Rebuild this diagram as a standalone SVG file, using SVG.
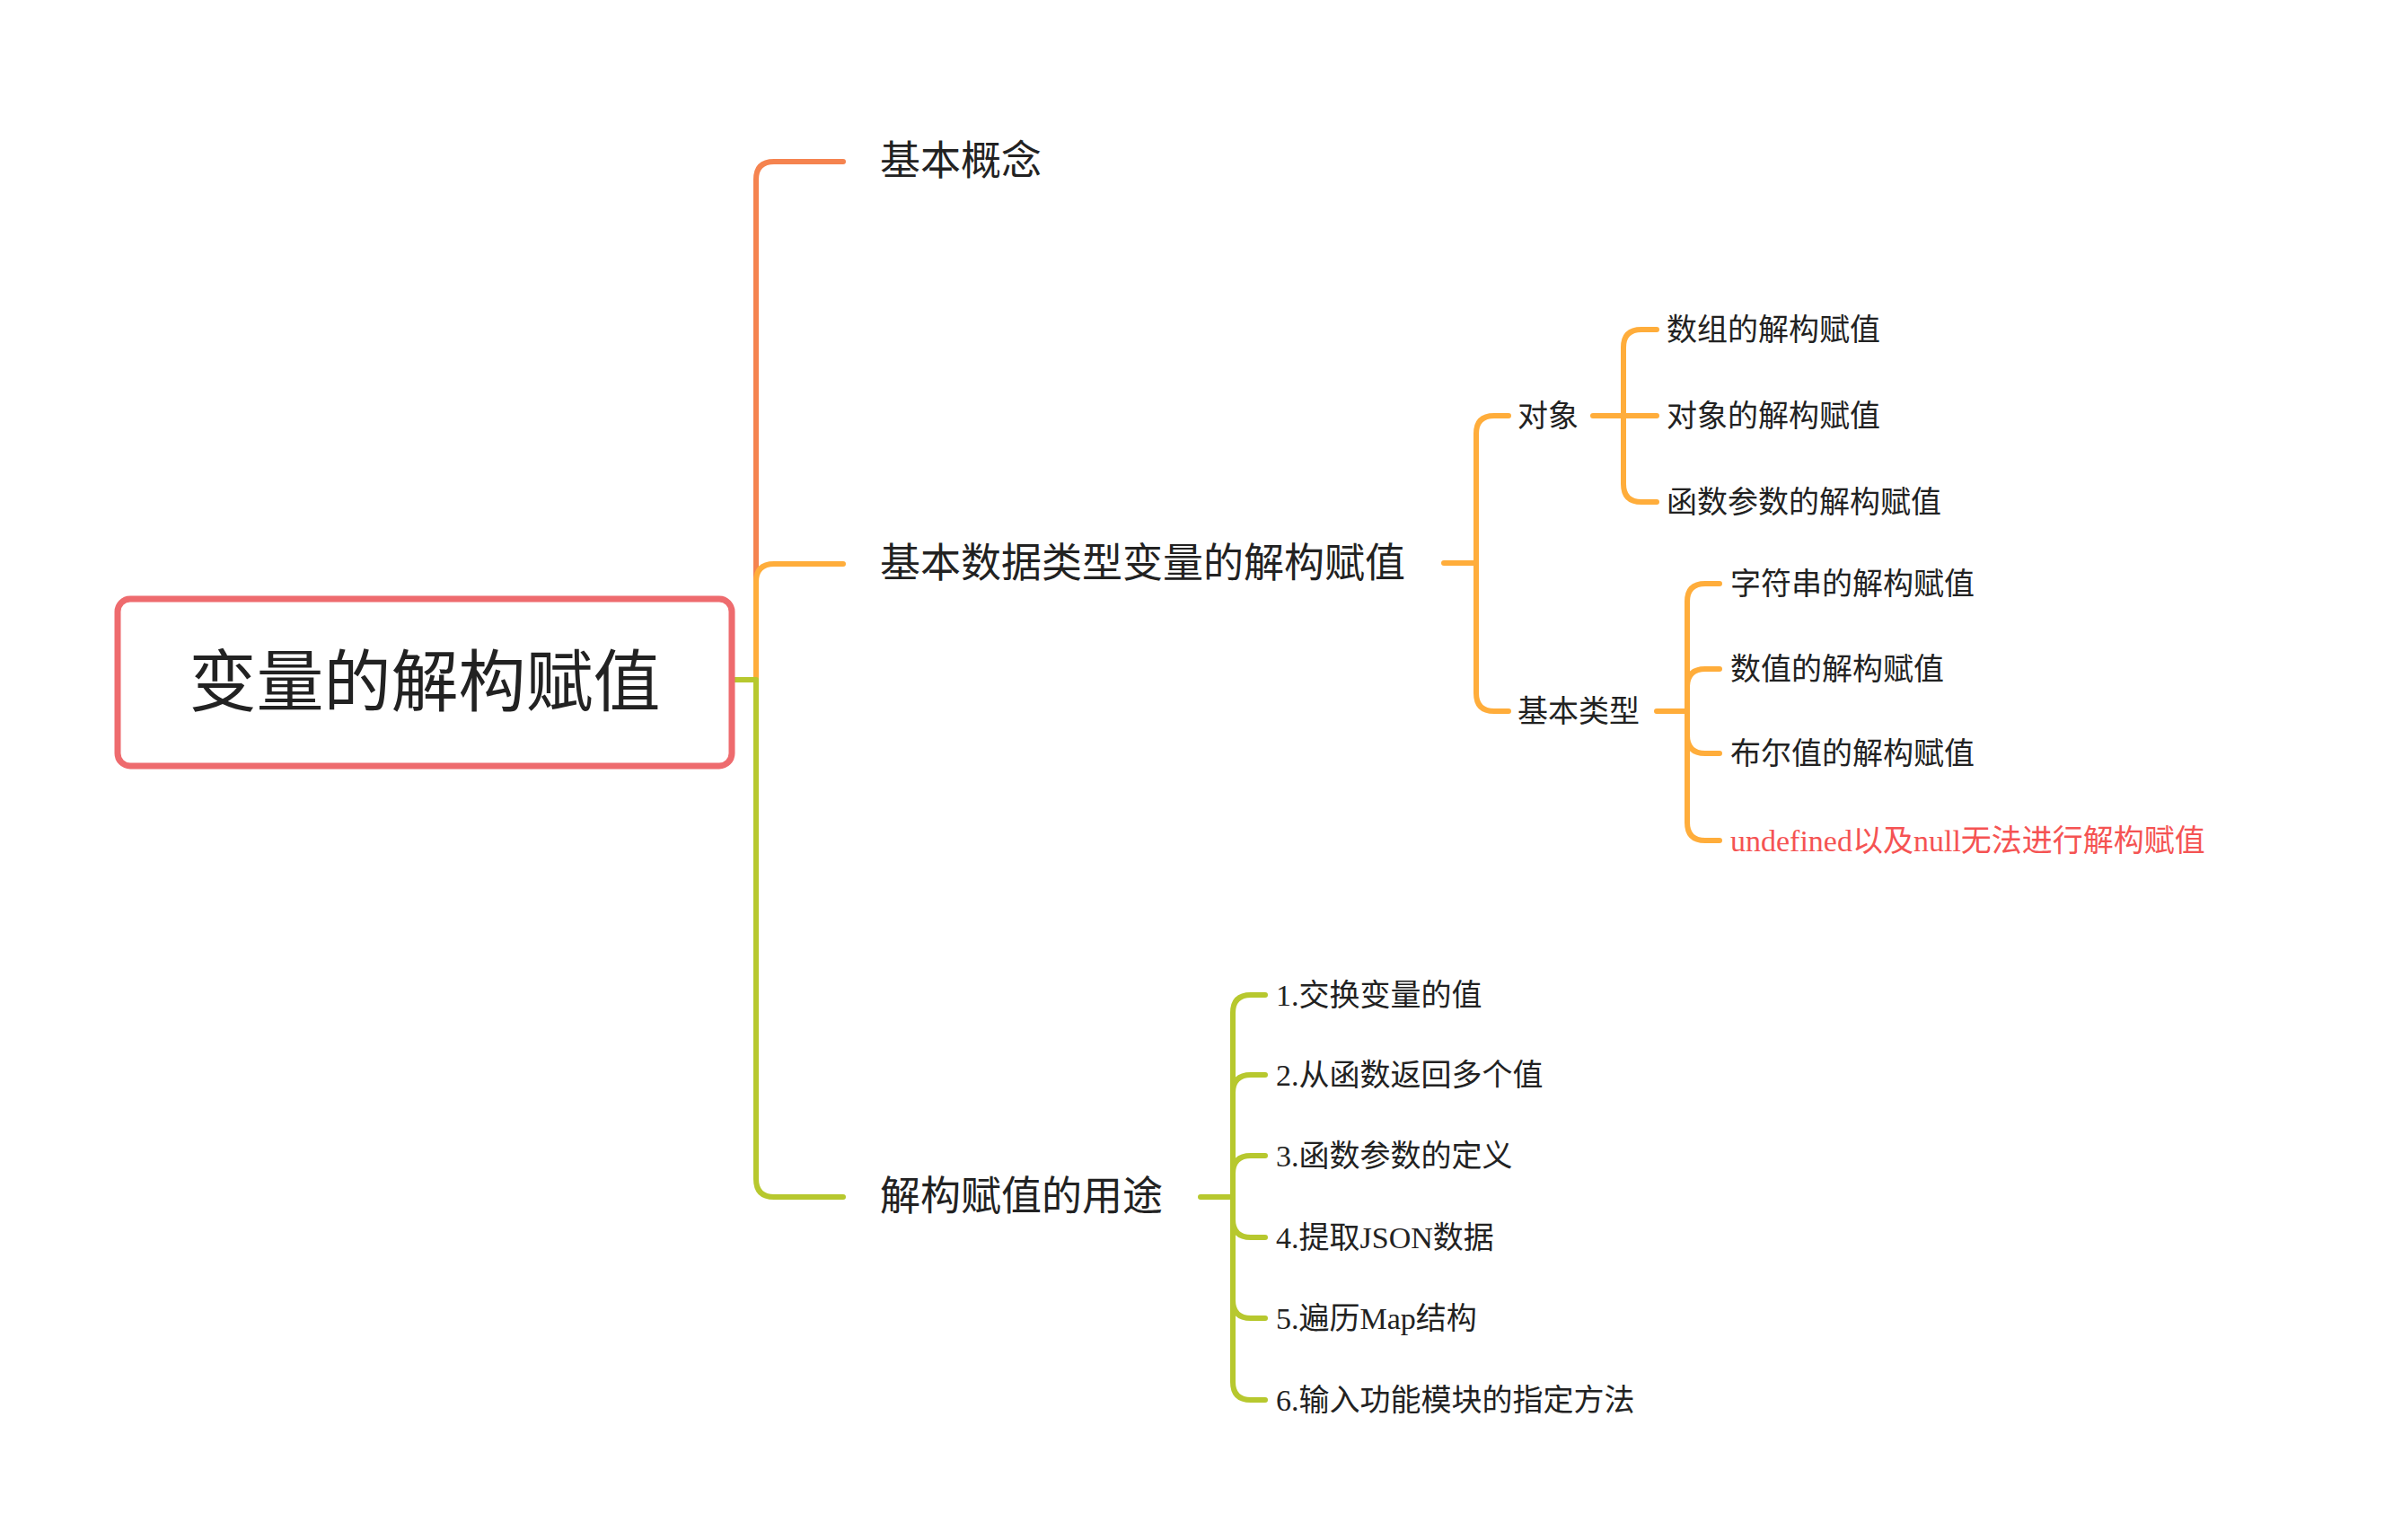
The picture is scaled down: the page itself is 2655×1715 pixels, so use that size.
<svg xmlns="http://www.w3.org/2000/svg" width="2655" height="1715" viewBox="0 0 2655 1715">
<style>
text{font-family:"Liberation Serif","Noto Sans CJK SC",sans-serif;fill:#222;dominant-baseline:central}
.c{fill:none;stroke-width:6;stroke-linecap:round;stroke-linejoin:round}
.r{stroke:#f5834f}.o{stroke:#ffad3b}.g{stroke:#b7c82e}
.l1{font-size:45px}.l2{font-size:34px}.l3{font-size:34px}
</style>
<rect width="2655" height="1715" fill="#fff"/>
<g id="connectors">
<path class="c r" d="M810,757 H842 V200 Q842,180 862,180 H939"/>
<path class="c o" d="M842,757 V648 Q842,628 862,628 H939"/>
<path class="c g" d="M810,757 H842 V1313 Q842,1333 862,1333 H939"/>
<path class="c o" d="M1608,627 H1644 V483 Q1644,463 1664,463 H1680 M1644,627 V772 Q1644,792 1664,792 H1680"/>
<path class="c o" d="M1774,463 H1845 M1808,463 V387 Q1808,367 1828,367 H1845 M1808,463 V539 Q1808,559 1828,559 H1845"/>
<path class="c o" d="M1845,792 H1879 M1879,792 V670 Q1879,650 1899,650 H1915 M1879,765 Q1879,745 1899,745 H1915 M1879,792 V819 Q1879,839 1899,839 H1915 M1879,792 V916 Q1879,936 1899,936 H1915"/>
<path class="c g" d="M1337,1333 H1373 M1373,1333 V1128 Q1373,1108 1393,1108 H1409 M1373,1217 Q1373,1197 1393,1197 H1409 M1373,1307 Q1373,1287 1393,1287 H1409 M1373,1358 Q1373,1378 1393,1378 H1409 M1373,1333 V1448 Q1373,1468 1393,1468 H1409 M1373,1333 V1539 Q1373,1559 1393,1559 H1409"/>
</g>
<g id="root"><rect x="131" y="667" width="684" height="186" rx="14" fill="#fff" stroke="#ee6b6e" stroke-width="7"/><text x="473" y="760" font-size="75" text-anchor="middle">变量的解构赋值</text></g>
<g id="n1"><text class="l1" x="980" y="180">基本概念</text></g>
<g id="n2"><text class="l1" x="980" y="628">基本数据类型变量的解构赋值</text></g>
<g id="n3"><text class="l1" x="980" y="1333">解构赋值的用途</text></g>
<g id="n21"><text class="l2" x="1690" y="463">对象</text></g>
<g id="n22"><text class="l2" x="1690" y="792">基本类型</text></g>
<g id="n211"><text class="l3" x="1856" y="367">数组的解构赋值</text></g>
<g id="n212"><text class="l3" x="1856" y="463">对象的解构赋值</text></g>
<g id="n213"><text class="l3" x="1856" y="559">函数参数的解构赋值</text></g>
<g id="n221"><text class="l3" x="1927" y="650">字符串的解构赋值</text></g>
<g id="n222"><text class="l3" x="1927" y="745">数值的解构赋值</text></g>
<g id="n223"><text class="l3" x="1927" y="839">布尔值的解构赋值</text></g>
<g id="n224"><text class="l3" x="1927" y="936" style="fill:#f55353">undefined以及null无法进行解构赋值</text></g>
<g id="n31"><text class="l3" x="1421" y="1108">1.交换变量的值</text></g>
<g id="n32"><text class="l3" x="1421" y="1197">2.从函数返回多个值</text></g>
<g id="n33"><text class="l3" x="1421" y="1287">3.函数参数的定义</text></g>
<g id="n34"><text class="l3" x="1421" y="1378">4.提取JSON数据</text></g>
<g id="n35"><text class="l3" x="1421" y="1468">5.遍历Map结构</text></g>
<g id="n36"><text class="l3" x="1421" y="1559">6.输入功能模块的指定方法</text></g>
</svg>
